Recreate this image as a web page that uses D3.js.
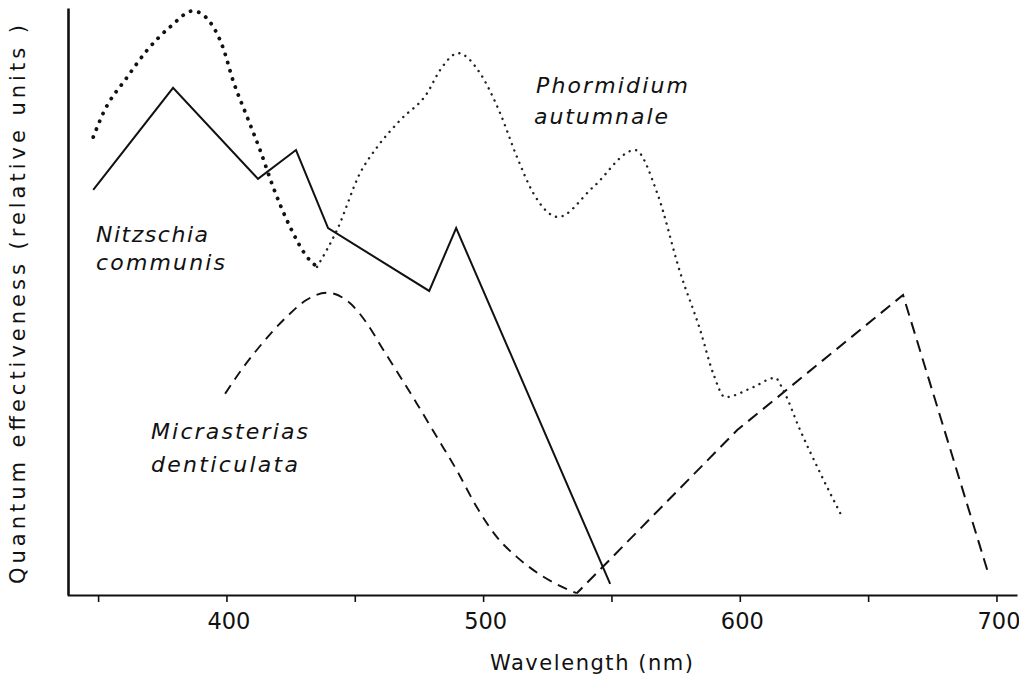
<!DOCTYPE html>
<html>
<head>
<meta charset="utf-8">
<script src="https://cdn.jsdelivr.net/npm/d3@7"></script>
<style>
  html, body { margin: 0; padding: 0; background: #fff; }
  svg { display: block; font-family: "DejaVu Sans", sans-serif; }
</style>
</head>
<body>
<svg id="chart" width="1019" height="678"></svg>
<script>
// Wavelength axis ticks (nm); only the hundreds carry a label
const wavelengthTicks = [350, 400, 450, 500, 550, 600, 650, 700];
const wavelengthLabels = ["", "400", "", "500", "", "600", "", "700"];

// Nitzschia communis (solid)
const nitzschiaNm = [348.1, 379.2, 412.3, 427.1, 439.6, 479.0, 489.5, 549.5];
const nitzschiaQe = [69.0, 86.4, 70.9, 75.8, 62.5, 51.8, 62.5, 1.9];

// Micrasterias denticulata (dashed)
const micrasteriasNm = [399.5, 406.6, 414.4, 423.5, 431.3, 439.1, 448.2, 454.7, 461.2, 467.7, 474.2, 482.0, 489.8, 497.5, 505.3, 513.1, 523.5, 536.5,
  599.0, 663.6, 696.8];
const micrasteriasQe = [34.3, 38.8, 43.1, 47.4, 50.3, 51.5, 49.7, 46.3, 41.7, 37.2, 32.6, 26.9, 21.2, 15.0, 9.9, 6.5, 3.1, 0.3,
  28.1, 51.1, 3.7];

// Phormidium autumnale (dotted)
const phormidiumNm = [348.1, 352.0, 361.3, 369.1, 378.1, 387.0, 393.6, 398.7, 402.6, 408.1, 413.1, 418.2, 424.8, 431.4, 435.3,
  443.1, 452.1, 458.7, 467.7, 478.2, 483.2, 490.3, 498.8, 506.6, 513.2, 519.5, 529.2, 542.9, 559.2, 567.8, 576.8,
  584.6, 589.6, 594.3, 605.2, 613.8, 616.9, 623.5, 631.3, 639.9];
const phormidiumQe = [78.0, 82.1, 88.2, 92.8, 96.8, 99.5, 97.6, 93.2, 87.6, 81.4, 75.8, 69.5, 62.7, 57.6, 55.9,
  62.2, 71.9, 76.3, 80.9, 85.5, 89.4, 92.3, 88.9, 82.1, 74.6, 68.5, 64.4, 69.5, 75.8, 68.5, 54.9,
  45.1, 37.8, 33.7, 35.4, 37.0, 34.9, 28.1, 20.8, 13.3];

const svg = d3.select("#chart");

const x = d3.scaleLinear().domain([338, 708]).range([67.3, 1017]);
const y = d3.scaleLinear().domain([0, 100]).range([595, 8]);

const zip = (xs, ys) => xs.map((v, i) => [v, ys[i]]);

// axes
const xAxis = d3.axisBottom(x)
  .tickValues(wavelengthTicks)
  .tickFormat((d, i) => wavelengthLabels[i])
  .tickSize(7)
  .tickSizeOuter(0)
  .tickPadding(11);

const gx = svg.append("g")
  .attr("transform", `translate(0,${y(0)})`)
  .call(xAxis);
gx.select(".domain").attr("stroke", "#111").attr("stroke-width", 2.2);
gx.selectAll(".tick line").attr("stroke", "#111").attr("stroke-width", 1.6);
gx.selectAll(".tick text")
  .attr("fill", "#111")
  .attr("dx", "2")
  .style("font-family", "'DejaVu Sans', sans-serif")
  .style("font-size", "22.5px");

const gy = svg.append("g")
  .attr("transform", `translate(${x(338) + 0.7},0)`)
  .call(d3.axisLeft(y).tickValues([]).tickSizeOuter(0));
gy.select(".domain").attr("stroke", "#111").attr("stroke-width", 2.6);

// curves
const lineLinear = d3.line().x(d => x(d[0])).y(d => y(d[1]));
const lineSmooth = d3.line().x(d => x(d[0])).y(d => y(d[1])).curve(d3.curveMonotoneX);

// Nitzschia: straight segments
svg.append("path")
  .datum(zip(nitzschiaNm, nitzschiaQe))
  .attr("d", lineLinear)
  .attr("fill", "none")
  .attr("stroke", "#111")
  .attr("stroke-width", 2)
  .attr("stroke-linejoin", "miter");

// Micrasterias: smooth band down to the minimum, then straight segments
const micr = zip(micrasteriasNm, micrasteriasQe);
const micrMin = d3.minIndex(micrasteriasQe);
svg.append("path")
  .datum(micr.slice(0, micrMin + 1))
  .attr("d", lineSmooth)
  .attr("fill", "none")
  .attr("stroke", "#111")
  .attr("stroke-width", 1.9)
  .attr("stroke-dasharray", "10 7");
svg.append("path")
  .datum(micr.slice(micrMin))
  .attr("d", lineLinear)
  .attr("fill", "none")
  .attr("stroke", "#111")
  .attr("stroke-width", 2)
  .attr("stroke-dasharray", "12 7")
  .attr("stroke-dashoffset", 4);

// Phormidium: heavier dots on the blue band, finer dots beyond
const phor = zip(phormidiumNm, phormidiumQe);
const phorSplit = 14;
svg.append("path")
  .datum(phor.slice(0, phorSplit + 1))
  .attr("d", lineSmooth)
  .attr("fill", "none")
  .attr("stroke", "#111")
  .attr("stroke-width", 3.8)
  .attr("stroke-linecap", "round")
  .attr("stroke-dasharray", "0.1 8.4");
svg.append("path")
  .datum(phor.slice(phorSplit))
  .attr("d", lineSmooth)
  .attr("fill", "none")
  .attr("stroke", "#222")
  .attr("stroke-width", 2.4)
  .attr("stroke-linecap", "round")
  .attr("stroke-dasharray", "0.1 6.6");

// species labels
const species = svg.append("g")
  .attr("fill", "#111")
  .style("font-size", "22px")
  .style("font-style", "oblique");

function label(px, py, txt, len) {
  species.append("text")
    .attr("x", px).attr("y", py)
    .attr("textLength", len)
    .attr("lengthAdjust", "spacing")
    .text(txt);
}
label(96, 242, "Nitzschia", 112);
label(96, 270, "communis", 129);
label(151, 439, "Micrasterias", 157);
label(151, 472, "denticulata", 147);
label(536, 93, "Phormidium", 152);
label(534, 124, "autumnale", 134);

// axis titles
svg.append("text")
  .attr("x", 490).attr("y", 670)
  .attr("fill", "#111")
  .attr("textLength", 203)
  .attr("lengthAdjust", "spacing")
  .style("font-size", "21px")
  .text("Wavelength (nm)");

svg.append("text")
  .attr("transform", "translate(25,584) rotate(-90)")
  .attr("fill", "#111")
  .attr("textLength", 559)
  .attr("lengthAdjust", "spacing")
  .style("font-size", "21px")
  .text("Quantum effectiveness (relative units )");
</script>
</body>
</html>
